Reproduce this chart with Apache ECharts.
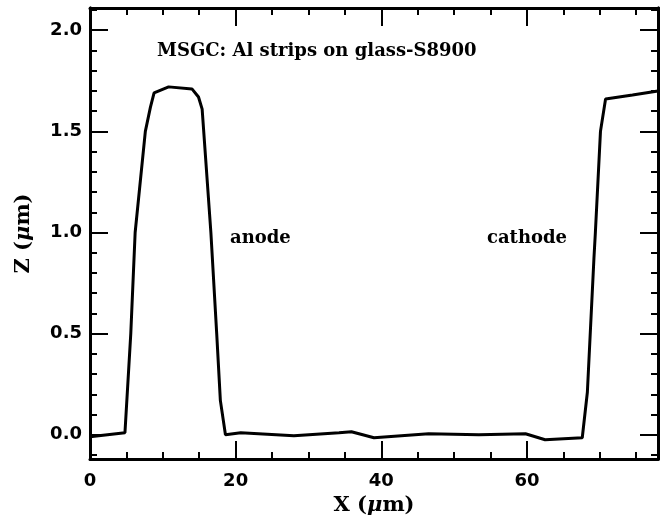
<!DOCTYPE html>
<html>
<head>
<meta charset="utf-8">
<title>MSGC profile</title>
<script src="https://cdn.jsdelivr.net/npm/echarts@6/dist/echarts.min.js"></script>
</head>
<body style="margin:0; background:#fff">
<div id="container" style="width:667px; height:526px"></div>
<script>
    // 表面轮廓数据 (X µm, Z µm)
    var profileX = [0, 4.8, 5.6, 6.2, 7.6, 8.3, 8.8, 10.8, 14.0, 14.9, 15.4, 16.6, 17.4, 17.9, 18.6,
        20.7, 28, 34.2, 35.9, 39, 46.5, 53.4, 59.8, 62.5, 67.6, 68.3, 69.2, 69.4, 70.1, 70.8, 74.5, 78];
    var profileZ = [-0.01, 0.01, 0.5, 1.0, 1.5, 1.62, 1.69, 1.72, 1.71, 1.67, 1.61, 1.0, 0.5, 0.17, 0.0,
        0.01, -0.005, 0.01, 0.015, -0.015, 0.005, 0.0, 0.005, -0.025, -0.015, 0.21, 0.87, 1.0, 1.5, 1.66, 1.68, 1.70];

    var xTicks = [0, 20, 40, 60];
    var yTicks = [0, 0.5, 1.0, 1.5, 2.0];
    var yMinorTicks = [];
    for (var t = -1; t <= 21; t++) {
        if (t % 5 !== 0) yMinorTicks.push(t / 10);
    }

    var seriesData = [];
    for (var i = 0; i < profileX.length; i++) {
        seriesData.push([profileX[i], profileZ[i]]);
    }

    var numFont = 'DejaVu Sans';
    var serifFont = 'DejaVu Serif';
    var yMin = -0.12, yMax = 2.11;

    function axisBase(extra) {
        var a = {
            type: 'value',
            axisLine: {show: true, onZero: false, lineStyle: {color: '#000', width: 3}},
            axisTick: {show: true, inside: true, length: 18, lineStyle: {color: '#000', width: 2}},
            splitLine: {show: false},
            axisLabel: {show: false}
        };
        for (var k in extra) a[k] = extra[k];
        return a;
    }

    var nameStyle = {
        fontFamily: serifFont, fontWeight: 'bold', fontSize: 21, color: '#000',
        rich: {i: {fontFamily: serifFont, fontStyle: 'italic', fontWeight: 'bold', fontSize: 21, color: '#000'}}
    };

    var myChart = echarts.init(document.getElementById('container'));

    option = {
        backgroundColor: '#fff',
        animation: false,
        grid: {left: 90, top: 8, right: 9, bottom: 67},
        xAxis: [
            axisBase({
                min: 0, max: 78, interval: 20, position: 'bottom',
                minorTick: {show: true, splitNumber: 4, length: 7, lineStyle: {color: '#000', width: 2}},
                axisLabel: {
                    show: true, margin: 13,
                    fontFamily: numFont, fontWeight: 'bold', fontSize: 18, color: '#000',
                    formatter: function (v) { return xTicks.indexOf(v) >= 0 ? String(v) : ''; }
                },
                name: 'X ({i|μ}m)',
                nameLocation: 'middle',
                nameGap: 34,
                nameTextStyle: nameStyle
            }),
            axisBase({
                min: 0, max: 78, interval: 20, position: 'top',
                minorTick: {show: true, splitNumber: 4, length: 7, lineStyle: {color: '#000', width: 2}}
            })
        ],
        yAxis: [
            axisBase({
                min: yMin, max: yMax, position: 'left',
                axisTick: {show: true, inside: true, length: 18, customValues: yTicks, lineStyle: {color: '#000', width: 2}},
                axisLabel: {
                    show: true, margin: 8, customValues: yTicks,
                    fontFamily: numFont, fontWeight: 'bold', fontSize: 18, color: '#000',
                    formatter: function (v) { return v.toFixed(1); }
                },
                name: 'Z ({i|μ}m)',
                nameLocation: 'middle',
                nameGap: 56,
                nameTextStyle: nameStyle
            }),
            axisBase({
                min: yMin, max: yMax, position: 'right',
                axisTick: {show: true, inside: true, length: 18, customValues: yTicks, lineStyle: {color: '#000', width: 2}}
            }),
            axisBase({
                min: yMin, max: yMax, position: 'left',
                axisTick: {show: true, inside: true, length: 7, customValues: yMinorTicks, lineStyle: {color: '#000', width: 2}}
            }),
            axisBase({
                min: yMin, max: yMax, position: 'right',
                axisTick: {show: true, inside: true, length: 7, customValues: yMinorTicks, lineStyle: {color: '#000', width: 2}}
            })
        ],
        graphic: [
            {type: 'text', left: 157, top: 42,
                style: {text: 'MSGC: Al strips on glass-S8900', fontFamily: serifFont, fontWeight: 'bold', fontSize: 18, fill: '#000'}},
            {type: 'text', left: 230, top: 229,
                style: {text: 'anode', fontFamily: serifFont, fontWeight: 'bold', fontSize: 18, fill: '#000'}},
            {type: 'text', left: 487, top: 229,
                style: {text: 'cathode', fontFamily: serifFont, fontWeight: 'bold', fontSize: 18, fill: '#000'}}
        ],
        series: [
            {
                type: 'line',
                data: seriesData,
                showSymbol: false,
                symbol: 'none',
                lineStyle: {color: '#000', width: 3}
            }
        ]
    };

    myChart.setOption(option, true);
</script>
</body>
</html>
